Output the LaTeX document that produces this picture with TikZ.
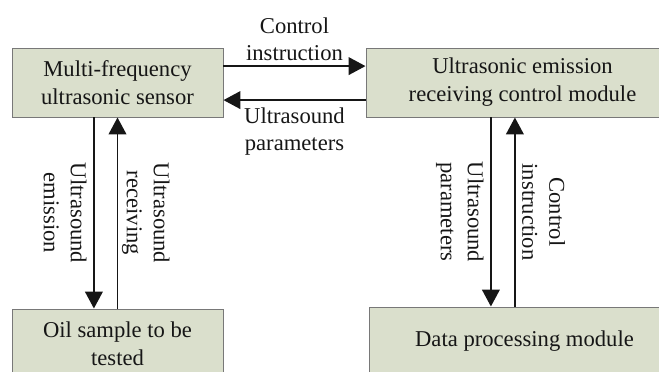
\documentclass[tikz,border=0pt]{standalone}
\usepackage{fontspec}
\setmainfont{Liberation Serif}
\usetikzlibrary{arrows.meta}
\definecolor{ModuleFill}{RGB}{218,223,204}
\definecolor{ModuleLine}{RGB}{120,120,120}
\definecolor{FlowText}{RGB}{22,22,22}

\begin{document}
\begin{tikzpicture}[>={Triangle[length=12pt,width=12.5pt]}]
    \tikzset{module/.style={draw=ModuleLine,fill=ModuleFill,line width=0.7pt,minimum height=1.725cm,align=center,font=\fontsize{16.1}{19.9}\selectfont,text=FlowText},
      flow/.style={->,line width=1.4pt,draw=FlowText},
      tag/.style={align=center,font=\fontsize{16.1}{19.2}\selectfont,text=FlowText,inner sep=4.5pt}}
    \useasboundingbox (0,0) rectangle (16.475,-9.3);
    \clip (0,0) rectangle (16.475,-9.3);
    \node[module,minimum width=5.275cm] (sensor) at (2.9375,-2.0625) {Multi-frequency\\ultrasonic sensor};
    \node[module,minimum width=7.825cm] (ctrl) at (13.0625,-2.0625) {Ultrasonic emission\\receiving control module};
    \node[module,minimum width=5.275cm] (oil) at (2.9375,-8.5875) {Oil sample to be\\tested};
    \node[module,minimum width=7.775cm] (data) at (13.1125,-8.5375) {Data processing module};
    % sensor <-> control module
    \draw[flow] ([yshift=4.1mm]sensor.east) -- ([yshift=4.1mm]ctrl.west)
      node[midway,above,tag,inner sep=3pt] {Control\\instruction};
    \draw[flow] ([yshift=-4.4mm]ctrl.west) -- ([yshift=-4.4mm]sensor.east)
      node[midway,below,tag] {Ultrasound\\parameters};
    % sensor <-> oil sample
    \draw[flow] ([xshift=-5.9mm]sensor.south) -- ([xshift=-5.9mm]oil.north)
      node[midway,rotate=-90,anchor=north,tag] {Ultrasound\\emission};
    \draw[flow] (oil.north) -- (sensor.south)
      node[midway,rotate=-90,anchor=south,tag,inner sep=2.5pt] {Ultrasound\\receiving};
    % control module <-> data processing
    \draw[flow] ([xshift=-7.9mm]ctrl.south) -- ([xshift=-7.9mm]ctrl.south |- data.north)
      node[midway,rotate=-90,anchor=north,tag] {Ultrasound\\parameters};
    \draw[flow] ([xshift=-1.9mm]ctrl.south |- data.north) -- ([xshift=-1.9mm]ctrl.south)
      node[midway,rotate=-90,anchor=south,tag] {Control\\instruction};
  \end{tikzpicture}
\end{document}
